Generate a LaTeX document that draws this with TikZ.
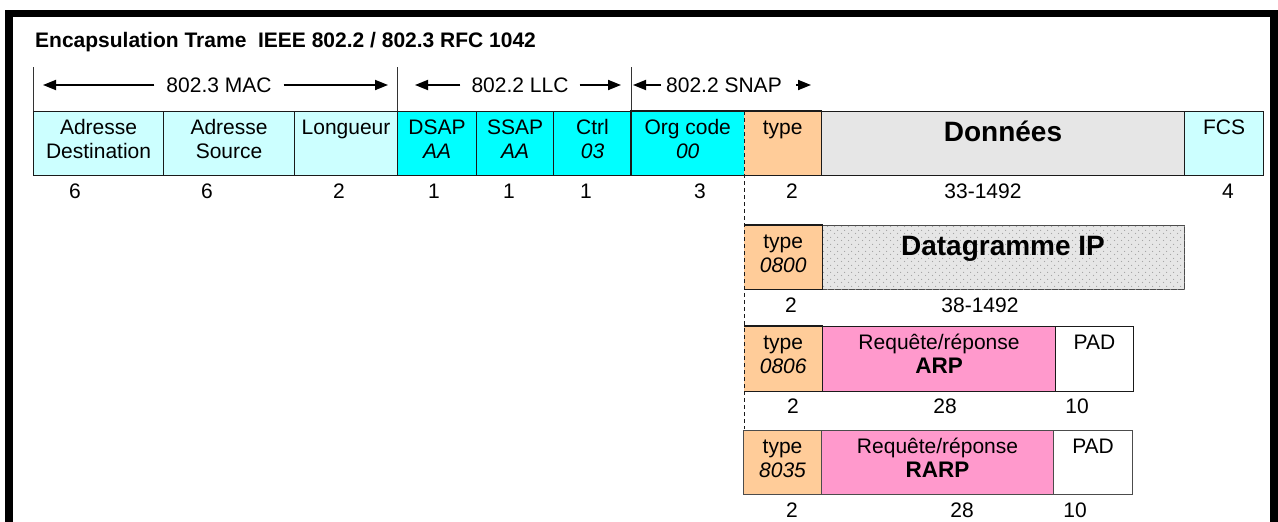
\documentclass[tikz,border=0pt]{standalone}
\usepackage{fontspec}
\setmainfont{Liberation Sans}
\usetikzlibrary{arrows.meta,patterns.meta}

\definecolor{lcyan}{HTML}{CCFFFF}
\definecolor{ccyan}{HTML}{00FFFF}
\definecolor{corange}{HTML}{FFCC99}
\definecolor{cgray}{HTML}{E6E6E6}
\definecolor{cpink}{HTML}{FF99CC}
\definecolor{cedge}{HTML}{1A1A1A}
\definecolor{cdot}{HTML}{A0A0A0}

\tikzdeclarepattern{
  name=sparsedots,
  type=uncolored,
  bottom left={(0pt,0pt)},
  top right={(7pt,7pt)},
  tile size={(7pt,7pt)},
  code={\fill (1.75pt,1.75pt) circle (0.65pt); \fill (5.25pt,5.25pt) circle (0.65pt);}
}

\newcommand\fst{\rule{0pt}{15.5pt}}

\begin{document}
\begin{tikzpicture}[x=1pt,y=-1pt,
  box/.style={draw=cedge, line width=1.1pt, inner sep=0pt, anchor=north west},
  fillbox/.style={draw=none, inner sep=0pt, anchor=north west},
  seg/.style={draw=cedge, line width=1.1pt},
  txt/.style={anchor=north, inner sep=0pt, align=center, font=\fontsize{21}{23.5}\selectfont, yshift=-8pt},
  num/.style={inner sep=0pt, font=\fontsize{21}{24}\selectfont},
  big/.style={inner sep=0pt, anchor=base, font=\bfseries\fontsize{28}{32}\selectfont},
  lab/.style={inner ysep=0pt, font=\fontsize{21}{24}\selectfont},
  arr/.style={-{Triangle[length=13pt,width=10pt]}, line width=1.8pt},
  tickline/.style={line width=1pt, draw=black!80},
  dashline/.style={line width=1pt, draw=cedge, dash pattern=on 4pt off 3pt},
  frame/.style={line width=7.5pt, draw=black, line join=miter},
]
\useasboundingbox (0,0) rectangle (1278,522);
\clip (0,0) rectangle (1278,522);

% outer frame
\draw[frame] (9,540) -- (9,13.5) -- (1274,13.5) -- (1274,540);

% title
\node[anchor=base west, inner sep=0pt, font=\bfseries\fontsize{21}{24}\selectfont] (title) at (35,47) {Encapsulation Trame\ \ IEEE 802.2 / 802.3 RFC 1042};

% ticks
\draw[tickline] (33,67) -- (33,111);
\draw[tickline] (397,67) -- (397,111);
\draw[tickline] (631,67) -- (631,111);

% range labels and arrows
\node[lab, inner xsep=12pt] (mac) at (219,85) {802.3 MAC};
\coordinate (macL) at (43,85);
\coordinate (macR) at (388,85);
\draw[arr] (mac.west) -- (macL);
\draw[arr] (mac.east) -- (macR);

\node[lab, inner xsep=11pt] (llc) at (520,85) {802.2 LLC};
\coordinate (llcL) at (415,85);
\coordinate (llcR) at (621,85);
\draw[arr] (llc.west) -- (llcL);
\draw[arr] (llc.east) -- (llcR);

\node[lab, inner xsep=5pt] (snap) at (724,85) {802.2 SNAP};
\coordinate (snapL) at (633,85);
\coordinate (snapR) at (811,85);
\draw[arr] (snap.west) -- (snapL);
\draw[arr, shorten <=9pt] (snap.east) -- (snapR);

% row 1
\node[box, fill=lcyan, minimum width=130pt, minimum height=64pt] (ad) at (33,111) {};
\node[box, fill=lcyan, minimum width=131pt, minimum height=64pt] (as) at (163,111) {};
\node[box, fill=lcyan, minimum width=103pt, minimum height=64pt] (lg) at (294,111) {};
\node[box, fill=ccyan, minimum width=79pt, minimum height=64pt] (dsap) at (397,111) {};
\node[box, fill=ccyan, minimum width=77pt, minimum height=64pt] (ssap) at (476,111) {};
\node[box, fill=ccyan, minimum width=78pt, minimum height=64pt] (ctrl) at (553,111) {};
\node[fillbox, fill=ccyan, minimum width=113pt, minimum height=64pt] (org) at (631,111) {};
\node[fillbox, fill=corange, minimum width=77pt, minimum height=64pt] (ty1) at (744,111) {};
\node[box, fill=cgray, minimum width=363pt, minimum height=64pt] (don) at (821,111) {};
\node[box, fill=lcyan, minimum width=79pt, minimum height=64pt] (fcs) at (1184,111) {};
\draw[seg] (org.north east) -- (org.north west) -- (org.south west) -- (org.south east);
\draw[seg] (ty1.north west) -- (ty1.north east) -- (ty1.south east) -- (ty1.south west);

\node[txt] (tad) at (ad.north) {\fst Adresse\\Destination};
\node[txt] (tas) at (as.north) {\fst Adresse\\Source};
\node[txt] (tlg) at (lg.north) {\fst Longueur};
\node[txt] (tdsap) at (dsap.north) {\fst DSAP\\\textit{AA}};
\node[txt] (tssap) at (ssap.north) {\fst SSAP\\\textit{AA}};
\node[txt] (tctrl) at (ctrl.north) {\fst Ctrl\\\textit{03}};
\node[txt] (torg) at (org.north) {\fst Org code\\\textit{00}};
\node[txt] (tty1) at (ty1.north) {\fst type};
\node[big] (tdon) at (1003,141) {Données};
\node[txt] (tfcs) at (fcs.north) {\fst FCS};

\node[num] (n1) at (75,191) {6};
\node[num] (n2) at (207,191) {6};
\node[num] (n3) at (339,191) {2};
\node[num] (n4) at (434,191) {1};
\node[num] (n5) at (509,191) {1};
\node[num] (n6) at (586,191) {1};
\node[num] (n7) at (700,191) {3};
\node[num] (n8) at (792,191) {2};
\node[num] (n9) at (983,191) {33-1492};
\node[num] (n10) at (1228,191) {4};

% IP row
\node[fillbox, fill=corange, minimum width=78pt, minimum height=64pt] (ty2) at (744,225) {};
\node[box, fill=cgray, minimum width=362pt, minimum height=64pt, draw=black!70, postaction={pattern=sparsedots, pattern color=cdot}] (dg) at (822,225) {};
\draw[seg] (ty2.north west) -- (ty2.north east) -- (ty2.south east) -- (ty2.south west);
\node[txt] (tty2) at (ty2.north) {\fst type\\\textit{0800}};
\node[big] (tdg) at (1003,255) {Datagramme IP};
\node[num] (m1) at (791,305) {2};
\node[num] (m2) at (980,305) {38-1492};

% ARP row
\node[fillbox, fill=corange, minimum width=78pt, minimum height=65pt] (ty3) at (744,326) {};
\node[box, fill=cpink, minimum width=233pt, minimum height=65pt] (rq1) at (822,326) {};
\node[box, fill=white, minimum width=78pt, minimum height=65pt] (pad1) at (1055,326) {};
\draw[seg] (ty3.north west) -- (ty3.north east) -- (ty3.south east) -- (ty3.south west);
\node[txt] (tty3) at (ty3.north) {\fst type\\\textit{0806}};
\node[txt] (trq1) at (rq1.north) {\fst Requête/réponse\\{\bfseries\fontsize{22.5}{24}\selectfont ARP}};
\node[txt] (tpad1) at (pad1.north) {\fst PAD};
\node[num] (a1) at (793,406) {2};
\node[num] (a2) at (945,406) {28};
\node[num] (a3) at (1077,406) {10};

% RARP row
\node[box, fill=corange, minimum width=78pt, minimum height=64pt, draw=black!70] (ty4) at (743,430) {};
\node[box, fill=cpink, minimum width=232pt, minimum height=64pt, draw=black!70] (rq2) at (821,430) {};
\node[box, fill=white, minimum width=79pt, minimum height=64pt, draw=black!70] (pad2) at (1053,430) {};
\node[txt] (tty4) at (ty4.north) {\fst type\\\textit{8035}};
\node[txt] (trq2) at (rq2.north) {\fst Requête/réponse\\{\bfseries\fontsize{22.5}{24}\selectfont RARP}};
\node[txt] (tpad2) at (pad2.north) {\fst PAD};
\node[num] (r1) at (792,510) {2};
\node[num] (r2) at (962,510) {28};
\node[num] (r3) at (1075,510) {10};

% dashed separator
\draw[dashline] (744,111) -- (744,429);
\end{tikzpicture}
\end{document}
